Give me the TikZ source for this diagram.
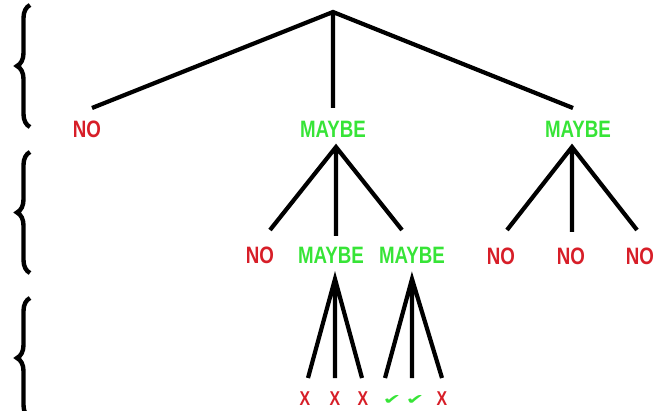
\documentclass[tikz,border=0pt]{standalone}
\usepackage{fontspec}
\newfontfamily\labelfont[FakeStretch=0.79]{Liberation Sans}
\newfontfamily\symbolfont{DejaVu Sans}
\usetikzlibrary{decorations.pathreplacing}

\definecolor{nored}{RGB}{215,30,40}
\definecolor{maybegreen}{RGB}{55,228,55}

\begin{document}
\begin{tikzpicture}[x=1pt, y=-1pt, line width=4.2pt,
    lbl/.style={inner sep=0pt, font=\labelfont\bfseries\fontsize{23.7}{24}\selectfont},
    no/.style={lbl, text=nored},
    maybe/.style={lbl, text=maybegreen},
    bad/.style={inner sep=0pt, text=nored, font=\labelfont\bfseries\fontsize{20}{20}\selectfont},
    good/.style={inner sep=0pt, text=maybegreen, font=\symbolfont\fontsize{22}{22}\selectfont},
    levelbrace/.style={decorate, decoration={brace, amplitude=13pt}, line width=4.4pt}]

    \useasboundingbox (0,0) rectangle (661,411);

    % --- Coordinates ---
    % Root and branch tips
    \coordinate (root) at (333, 12);
    \coordinate (r1) at (92, 108);
    \coordinate (r2) at (333, 108);
    \coordinate (r3) at (573, 108);

    % Peaks under the MAYBE labels
    \coordinate (p1) at (336, 147);
    \coordinate (p2) at (572, 147);
    \coordinate (p3) at (335, 279);
    \coordinate (p4) at (412, 279);

    % Leaf tips
    \coordinate (a1) at (270, 230);
    \coordinate (a2) at (336, 236);
    \coordinate (a3) at (402, 230);
    \coordinate (b1) at (507, 230);
    \coordinate (b2) at (572, 232);
    \coordinate (b3) at (637, 230);
    \coordinate (c1) at (308, 378);
    \coordinate (c2) at (335, 378);
    \coordinate (c3) at (362, 378);
    \coordinate (d1) at (385, 378);
    \coordinate (d2) at (412, 378);
    \coordinate (d3) at (442, 378);

    % --- Level 1 ---
    \node[no] (no1) at (87, 129) {NO};
    \node[maybe] (maybe1) at (333, 129) {MAYBE};
    \node[maybe] (maybe2) at (578, 129) {MAYBE};

    % --- Level 2 ---
    \node[no] (no2) at (260, 255) {NO};
    \node[maybe] (maybe3) at (331, 255) {MAYBE};
    \node[maybe] (maybe4) at (412, 255) {MAYBE};
    \node[no] (no3) at (501, 256) {NO};
    \node[no] (no4) at (571, 256) {NO};
    \node[no] (no5) at (640, 256) {NO};

    % --- Level 3 (outcomes) ---
    \node[bad] (x1) at (305, 399) {X};
    \node[bad] (x2) at (335, 399) {X};
    \node[bad] (x3) at (363, 399) {X};
    \node[good] (ok1) at (392, 400) {\scalebox{1}[0.65]{✔}};
    \node[good] (ok2) at (415, 400) {\scalebox{1}[0.65]{✔}};
    \node[bad] (x4) at (442, 399) {X};

    % --- Branches ---
    \draw (r1) -- (root) -- (r3) (root) -- (r2);
    \draw (a1) -- (p1) -- (a3) (p1) -- (a2);
    \draw (b1) -- (p2) -- (b3) (p2) -- (b2);
    \draw (c1) -- (p3) -- (c3) (p3) -- (c2);
    \draw (d1) -- (p4) -- (d3) (p4) -- (d2);

    % --- Level braces ---
    \draw[levelbrace] (30, 127) -- (30, 5);
    \draw[levelbrace] (30, 273) -- (30, 152);
    \draw[levelbrace] (30, 418) -- (30, 298);

\end{tikzpicture}
\end{document}
